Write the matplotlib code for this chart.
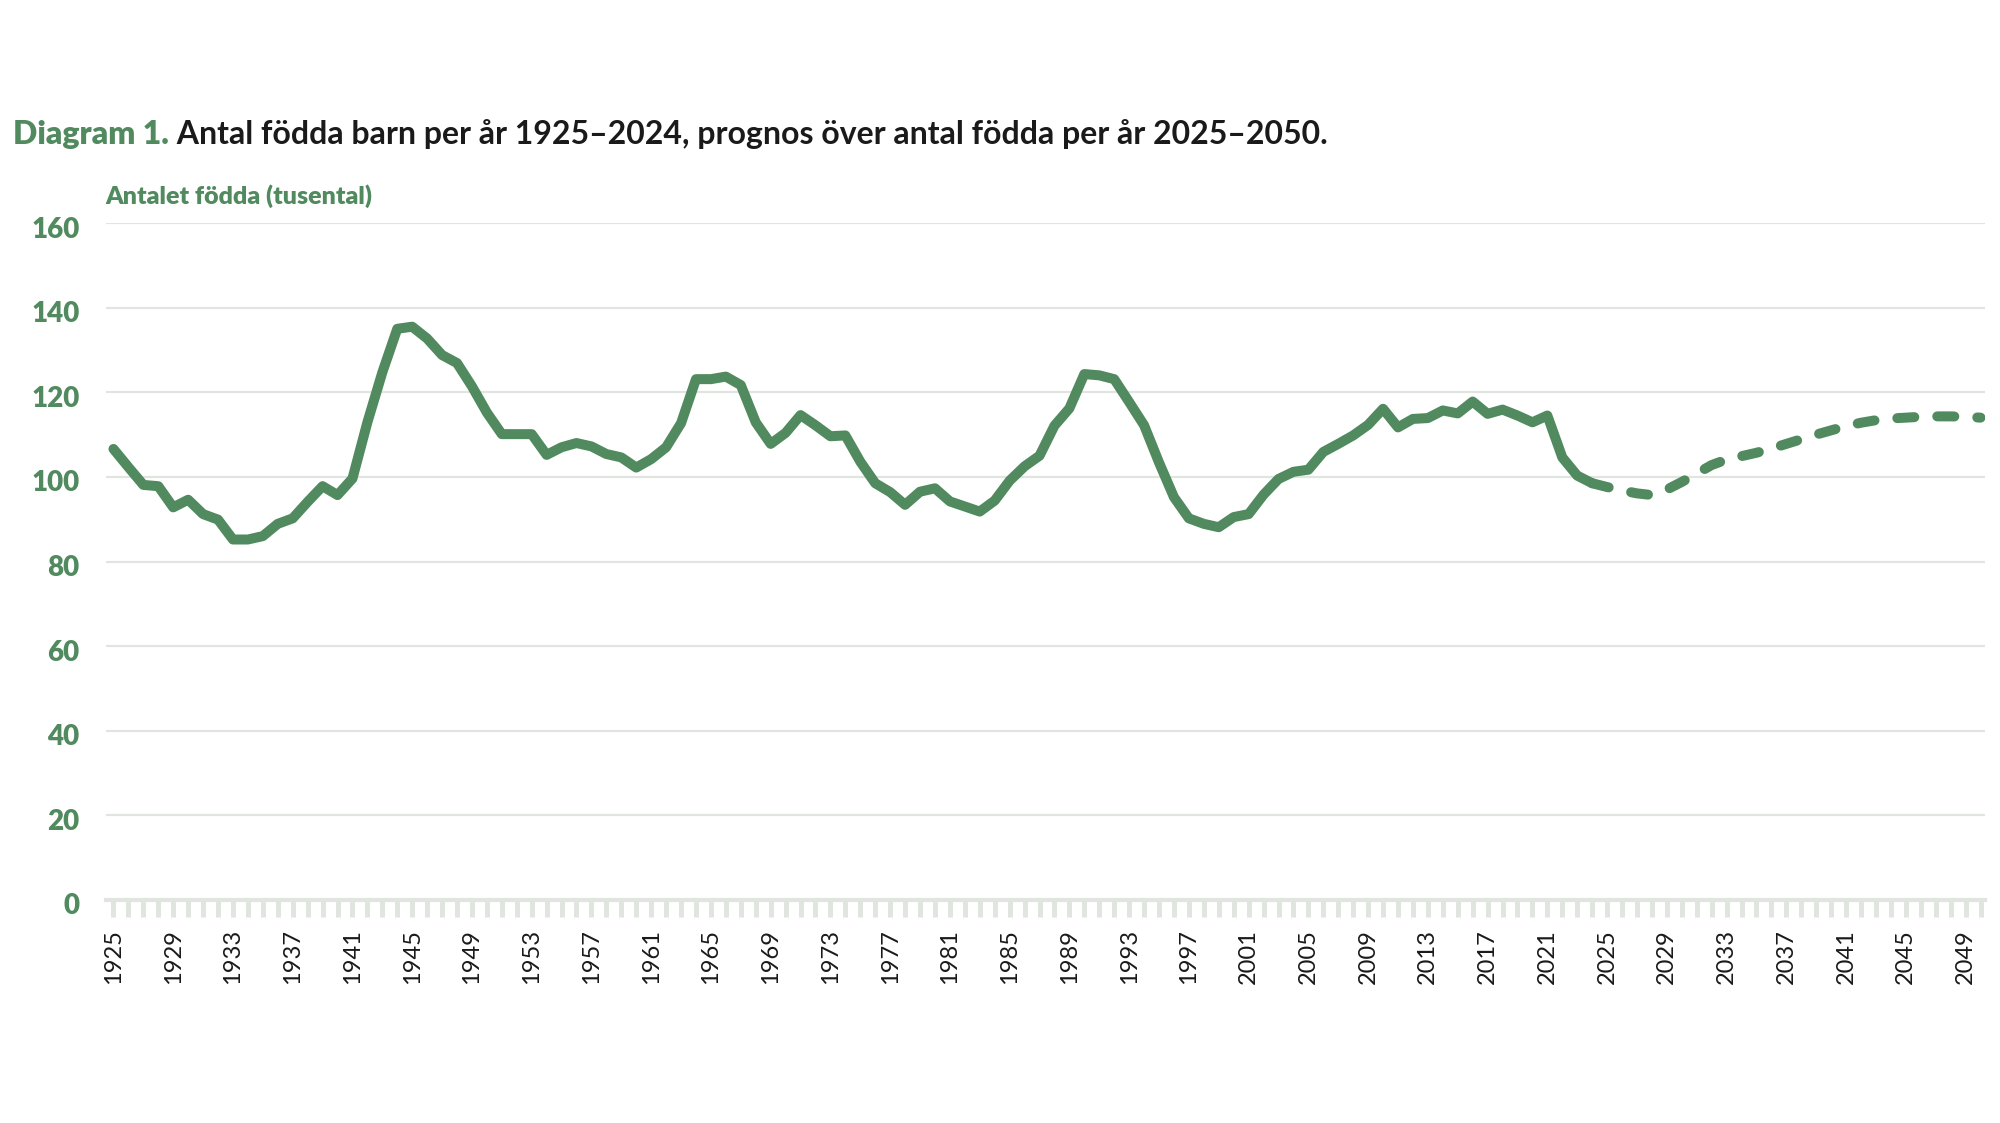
import matplotlib
matplotlib.use("Agg")
import matplotlib.pyplot as plt
import matplotlib.transforms as mtransforms

plt.rcParams['font.family'] = ['Lato', 'DejaVu Sans']

green = '#508a5e'
grid_grey = '#e1e5df'

# born per year, thousands (1925-2024)
years = list(range(1925, 2025))
births = [
    106.6, 102.3, 98.1, 97.8, 92.8, 94.6, 91.2, 89.9, 85.2, 85.2,
    86.0, 88.9, 90.2, 94.1, 97.8, 95.7, 99.6, 112.9, 124.7, 135.0,
    135.5, 132.7, 128.8, 126.9, 121.4, 115.2, 110.1, 110.1, 110.1, 105.2,
    107.0, 108.0, 107.2, 105.4, 104.6, 102.2, 104.2, 107.0, 112.7, 123.1,
    123.1, 123.7, 121.7, 112.9, 107.8, 110.4, 114.6, 112.2, 109.6, 109.8,
    103.6, 98.5, 96.4, 93.4, 96.5, 97.3, 94.2, 93.0, 91.8, 94.4,
    99.1, 102.5, 105.0, 112.1, 116.2, 124.3, 124.0, 123.1, 117.7, 112.2,
    103.4, 95.2, 90.2, 88.9, 88.1, 90.5, 91.2, 95.8, 99.5, 101.2,
    101.7, 105.9, 107.8, 109.8, 112.3, 116.1, 111.7, 113.7, 113.9, 115.7,
    115.0, 117.8, 114.9, 115.9, 114.5, 112.9, 114.5, 104.6, 100.3, 98.5,
]

# forecast 2024-2050 (starts at last observed year)
fc_years = list(range(2024, 2051))
forecast = [
    98.5, 97.6, 96.8, 96.1, 95.7, 97.0, 98.8, 100.8, 102.8, 104.1,
    104.9, 105.7, 106.7, 107.8, 108.9, 110.0, 111.0, 112.0, 112.8, 113.4,
    113.8, 114.0, 114.2, 114.3, 114.3, 114.2, 114.0,
]

tick_years = list(range(1925, 2051))
tick_labels = [str(y) if (y - 1925) % 4 == 0 else '' for y in tick_years]
y_ticks = [0, 20, 40, 60, 80, 100, 120, 140, 160]

title_lead = 'Diagram 1.'
title_rest = ' Antal födda barn per år 1925–2024, prognos över antal födda per år 2025–2050.'
y_title = 'Antalet födda (tusental)'

fig = plt.figure(figsize=(20, 11.23), dpi=100)
ax = fig.add_axes([0.053, 0.1986, 0.9395, 0.6028])

for v in y_ticks[1:]:
    ax.axhline(v, color=grid_grey, lw=1.6, zorder=1)

ax.plot(years, births, color=green, lw=7.2, solid_capstyle='round',
        solid_joinstyle='round', zorder=3)
ax.plot(fc_years, forecast, color=green, lw=7.2, linestyle=(0, (1.7, 2.3)),
        dash_capstyle='round', zorder=3)

ax.set_xlim(1924.5, 2050.3)
ax.set_ylim(0, 160)

for s in ['top', 'right', 'left']:
    ax.spines[s].set_visible(False)
ax.spines['bottom'].set_color(grid_grey)
ax.spines['bottom'].set_linewidth(3)

ax.set_xticks(tick_years)
ax.set_xticklabels(tick_labels, rotation=90, fontsize=17, color='#1a1a1a')
ax.tick_params(axis='x', direction='out', length=12, width=3.6, color=grid_grey, pad=9)

ax.set_yticks(y_ticks)
ax.set_yticklabels([str(v) for v in y_ticks], fontsize=20, fontweight='heavy', color=green)
ax.tick_params(axis='y', length=0, pad=19)
# nudge y labels a little below their gridlines, like the original
shift = mtransforms.ScaledTranslation(0, -0.04, fig.dpi_scale_trans)
for lab in ax.get_yticklabels():
    lab.set_transform(lab.get_transform() + shift)

fig.text(0.0525, 0.8183, y_title, fontsize=18, fontweight='heavy', color=green)

t1 = fig.text(0.0065, 0.8718, title_lead, fontsize=23, fontweight='heavy', color=green)
fig.canvas.draw()
bb = t1.get_window_extent(renderer=fig.canvas.get_renderer())
x_next = bb.x1 / fig.bbox.width
fig.text(x_next, 0.8718, title_rest, fontsize=23, fontweight='bold', color='#1a1a1a')

fig.savefig('out.png', dpi=100, facecolor='white')
